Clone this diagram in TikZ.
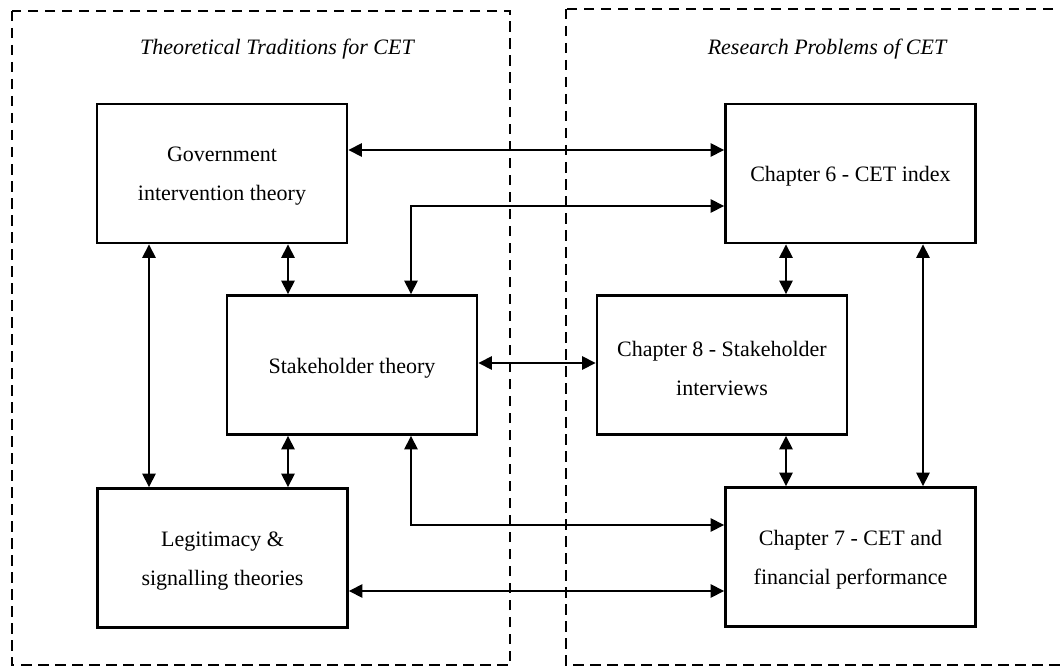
\documentclass[tikz,border=0pt]{standalone}
\usepackage{fontspec}
\setmainfont{Liberation Serif}
\usetikzlibrary{arrows.meta}
\begin{document}
\begin{tikzpicture}[x=1pt,y=-1pt,
  boxtext/.style={align=center, inner sep=0pt, yshift=-3pt,
    font=\fontsize{22}{39}\selectfont},
  box/.style={draw, line width=2.9pt, minimum width=250pt, minimum height=139pt,
    inner sep=0pt, label={[boxtext]center:{#1}}},
  link/.style={line width=1.6pt,
    {Triangle[length=13.5pt,width=13.5pt]}-{Triangle[length=13.5pt,width=13.5pt]}},
  frame/.style={line width=2.8pt, dash pattern=on 10.5pt off 6.5pt},
  heading/.style={font=\itshape\fontsize{22}{26}\selectfont}]
  \clip (0,0) rectangle (1060,666);

  % dashed groups
  \draw[frame] (12,11) rectangle (510,665);
  \draw[frame] (566,9) rectangle (1080,665);
  \node[heading] (tleft) at (277,49) {Theoretical Traditions for CET};
  \node[heading] (tright) at (827,49) {Research Problems of CET};

  % boxes
  \node[box={Government\\intervention theory}] (gov) at (222,173.5) {};
  \node[box={Stakeholder theory}] (stk) at (352,365) {};
  \node[box={Legitimacy \&\\signalling theories}] (leg) at (222.5,558) {};
  \node[box={Chapter 6 - CET index}] (ch6) at (850.5,173.5) {};
  \node[box={Chapter 8 - Stakeholder\\interviews}] (ch8) at (722,365) {};
  \node[box={Chapter 7 - CET and\\financial performance}] (ch7) at (850.5,557) {};

  % guide positions for connectors
  \coordinate (c149) at (149,0);
  \coordinate (c288) at (288,0);
  \coordinate (c411) at (411,0);
  \coordinate (c786) at (786,0);
  \coordinate (c923) at (923,0);
  \coordinate (r150) at (0,150);
  \coordinate (r206) at (0,206);
  \coordinate (r363) at (0,363);
  \coordinate (r525) at (0,525);
  \coordinate (r591) at (0,591);

  % connectors
  \draw[link] (gov.east |- r150) -- (ch6.west |- r150);
  \draw[link] (ch6.west |- r206) -| (stk.north -| c411);
  \draw[link] (gov.south -| c288) -- (stk.north -| c288);
  \draw[link] (gov.south -| c149) -- (leg.north -| c149);
  \draw[link] (stk.east |- r363) -- (ch8.west |- r363);
  \draw[link] (ch6.south -| c786) -- (ch8.north -| c786);
  \draw[link] (ch6.south -| c923) -- (ch7.north -| c923);
  \draw[link] (stk.south -| c288) -- (leg.north -| c288);
  \draw[link] (stk.south -| c411) |- (ch7.west |- r525);
  \draw[link] (ch8.south -| c786) -- (ch7.north -| c786);
  \draw[link] (leg.east |- r591) -- (ch7.west |- r591);
\end{tikzpicture}
\end{document}
